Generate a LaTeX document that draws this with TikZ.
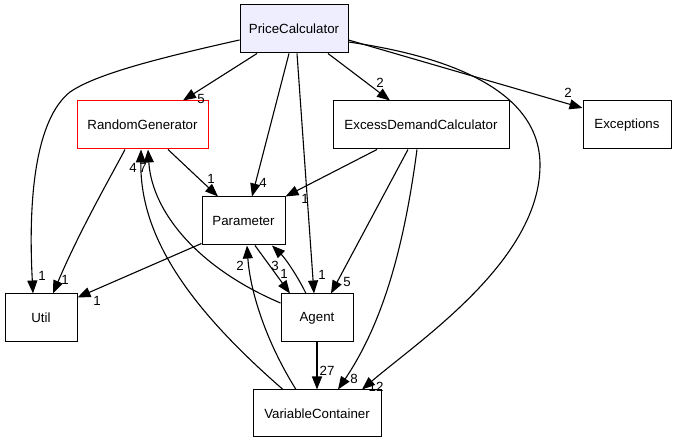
\documentclass[tikz,border=0pt]{standalone}
\usepackage{fontspec}
\setmainfont{Liberation Sans}
\usetikzlibrary{arrows.meta}
\definecolor{pcfill}{HTML}{EEEEFF}
\begin{document}
\begin{tikzpicture}[x=1pt,y=-1pt,
  box/.style={draw=black, line width=1pt, fill=white, minimum height=48pt, inner sep=0pt, font=\fontsize{13.3}{16}\selectfont},
  dep/.style={draw=black, line width=1.1pt, -{Triangle[length=13pt,width=10pt]}},
  lbl/.style={font=\fontsize{13.3}{16}\selectfont, inner sep=0pt}]
\useasboundingbox (0,0) rectangle (675,443);
% nodes
\node[box, fill=pcfill, minimum width=108pt] (pc) at (294,29) {PriceCalculator};
\node[box, draw=red, minimum width=131pt] (rg) at (142.5,125) {RandomGenerator};
\node[box, minimum width=176pt] (edc) at (421,125) {ExcessDemandCalculator};
\node[box, minimum width=88pt] (exc) at (627,125) {Exceptions};
\node[box, minimum width=83pt] (par) at (243.5,221) {Parameter};
\node[box, minimum width=72pt] (util) at (41,318) {Util};
\node[box, minimum width=72pt] (agent) at (317,318) {Agent};
\node[box, minimum width=128pt, minimum height=47pt] (vc) at (317,413.5) {VariableContainer};
% edges
\draw[dep] ([yshift=-11pt]pc.west) .. controls (150,60) and (95,75) .. (70,92) .. controls (35,120) and (28,200) .. ([xshift=-8pt]util.north);
\draw[dep] ([xshift=-37pt]pc.south) -- ([xshift=40.5pt]rg.north);
\draw[dep] ([xshift=-5pt]pc.south) -- ([xshift=8.5pt]par.north);
\draw[dep] ([xshift=3pt]pc.south) -- ([xshift=-3pt]agent.north);
\draw[dep] ([xshift=34pt]pc.south) -- ([xshift=-31pt]edc.north);
\draw[dep] ([yshift=-11pt]pc.east) -- ([yshift=17pt]exc.west);
\draw[dep] ([yshift=-13pt]pc.east) .. controls (460,58) and (540,95) .. (540,165) .. controls (540,260) and (420,340) .. ([xshift=45pt]vc.north);
\draw[dep] ([xshift=-44pt]edc.south) -- (par.north east);
\draw[dep] ([xshift=-13pt]edc.south) -- ([xshift=14pt]agent.north);
\draw[dep] ([xshift=-4pt]edc.south) .. controls (405,240) and (385,320) .. ([xshift=21pt]vc.north);
\draw[dep] ([xshift=-17.5pt]rg.south) .. controls (110,178) and (80,230) .. ([xshift=12pt]util.north);
\draw[dep] ([xshift=25.5pt]rg.south) -- ([xshift=-25.5pt]par.north);
\draw[dep] ([yshift=2pt]par.south west) -- ([yshift=-4pt]util.north east);
\draw[dep] ([xshift=11.5pt]par.south) -- ([xshift=-27pt]agent.north);
\draw[dep] ([xshift=-11pt]agent.north) .. controls (297,275) and (285,258) .. ([xshift=28.5pt]par.south);
\draw[dep] ([yshift=15pt]agent.west) .. controls (198,268) and (152,212) .. ([xshift=5.5pt]rg.south);
\draw[dep] ([xshift=-34pt]vc.north) .. controls (180,300) and (140,230) .. ([xshift=-1.5pt]rg.south);
\draw[dep] ([xshift=-21pt]vc.north) .. controls (265,340) and (250,290) .. ([xshift=3.5pt]par.south);
\draw[dep] (agent.south) -- (vc.north);
% labels
\node[lbl] (l1) at (42,276) {1};
\node[lbl] (l2) at (201,99) {5};
\node[lbl] (l3) at (263,183) {4};
\node[lbl] (l4) at (322,275) {1};
\node[lbl] (l5) at (380,83) {2};
\node[lbl] (l6) at (568,93) {2};
\node[lbl] (l7) at (376,387) {12};
\node[lbl] (l8) at (305,199) {1};
\node[lbl] (l9) at (347,282) {5};
\node[lbl] (l10) at (354,379) {8};
\node[lbl] (l11) at (65,280) {1};
\node[lbl] (l12) at (211,179) {1};
\node[lbl] (l13) at (97,301) {1};
\node[lbl] (l14) at (284,274) {1};
\node[lbl] (l15) at (275,266) {3};
\node[lbl] (l16) at (143,168) {7};
\node[lbl] (l17) at (133,168) {4};
\node[lbl] (l18) at (240,266) {2};
\node[lbl] (l19) at (327,371) {27};
\end{tikzpicture}
\end{document}
